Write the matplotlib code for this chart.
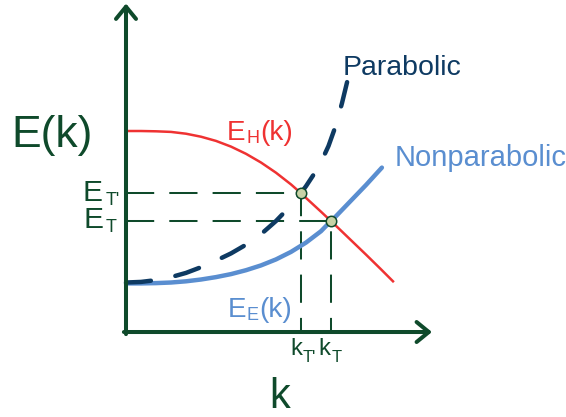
import numpy as np
import matplotlib.pyplot as plt

plt.rcParams['font.family'] = ['Liberation Sans', 'DejaVu Sans']

green = '#0f4a2b'
red = '#ef3232'
blue = '#5a8ed0'
navy = '#0e3a62'
dot = '#c8d2a6'

# hole band E_H(k)
k_hole = [0, .05, .1, .15, .2, .25, .3, .35, .4, .45, .5, .55, .583, .6, .65, .683, .7, .75, .8, .85, .89]
E_hole = [.670, .670, .669, .667, .661, .651, .637, .618, .594, .565, .531, .492, .463, .447, .401, .370, .354, .306, .258, .209, .169]

# nonparabolic electron band E_E(k)
k_np = [0, .05, .1, .15, .2, .25, .3, .35, .4, .45, .5, .55, .6, .65, .683, .7, .75, .8, .853]
E_np = [.162, .162, .163, .165, .169, .175, .183, .193, .206, .222, .242, .267, .298, .336, .370, .386, .438, .490, .548]

# parabolic electron band
k_par = [0, .05, .1, .15, .2, .25, .3, .35, .4, .45, .5, .55, .583, .6, .625, .65, .675, .7, .72, .737]
E_par = [.165, .167, .173, .183, .197, .216, .238, .262, .291, .326, .370, .422, .463, .486, .524, .566, .620, .690, .763, .833]

# crossing points
kT1, ET1 = 0.583, 0.463
kT, ET = 0.683, 0.370

fig = plt.figure(figsize=(5.66, 4.17), dpi=100)
ax = fig.add_axes([0, 0, 1, 1])
ax.set_xlim(-0.42, 1.4667)
ax.set_ylim(-0.2833, 1.1067)
ax.axis('off')

# guide lines
guide = dict(color=green, lw=1.45, solid_capstyle='butt', dash_capstyle='butt', zorder=1)
ax.plot([0, kT1], [ET1, ET1], linestyle=(0, (14, 7.5)), **guide)
ax.plot([0, kT], [ET, ET], linestyle=(0, (14, 7.5)), **guide)
ax.plot([kT1, kT1], [0, ET1], linestyle=(7, (14, 7.5)), **guide)
ax.plot([kT, kT], [0, ET], linestyle=(7, (14, 7.5)), **guide)

# bands
ax.plot(k_np, E_np, color=blue, lw=3.2, solid_capstyle='round', zorder=2)

# stretch the dash pattern so the parabolic curve ends on a dash
lw_par = 3.2
pts = ax.transData.transform(np.column_stack([k_par, E_par])) * 72 / fig.dpi
L = np.hypot(*np.diff(pts, axis=0).T).sum() / lw_par
on, off = 5.3, 5.3
n = round((L - on) / (on + off))
f = L / (n * (on + off) + on)
ax.plot(k_par, E_par, color=navy, lw=lw_par, linestyle=(0, (on * f, off * f)),
        dash_capstyle='round', zorder=3)
ax.plot(k_hole, E_hole, color=red, lw=1.8, zorder=3)

# axes with open arrow heads
arrow = dict(arrowstyle='->,head_length=0.55,head_width=0.45', lw=2.9, color=green,
             shrinkA=0, shrinkB=0, mutation_scale=16)
ax.annotate('', xy=(0, 1.095), xytext=(0, -0.007), arrowprops=arrow, zorder=4)
ax.annotate('', xy=(1.02, 0), xytext=(-0.007, 0), arrowprops=arrow, zorder=4)

# crossing markers
ax.plot([kT1, kT], [ET1, ET], 'o', ms=7.5, mfc=dot, mec=green, mew=1.1, zorder=5)


def px(x, y):
    return x / 566, 1 - y / 417


def label(x, y, s, size, color, **kw):
    fig.text(*px(x, y), s, size=size, color=color, va='baseline', ha='left', **kw)


label(11.5, 147, 'E(k)', 32, green)
fig.text(*px(280, 408), 'k', size=30, color=green, va='baseline', ha='center')

label(83, 201, 'E', 21.5, green)
label(105.5, 205, "T'", 13, green)
label(84, 228, 'E', 21.5, green)
label(106, 232, 'T', 13, green)

label(290, 355, 'k', 17, green)
label(302.5, 362, "T'", 12, green)
label(318, 355, 'k', 17, green)
label(331.5, 362, 'T', 12, green)

label(227, 140, 'E', 20, red)
label(246, 143, 'H', 13, red)
label(260, 140, '(k)', 20, red)

label(228, 317, 'E', 20, blue)
label(246, 320, 'E', 13, blue)
label(259, 317, '(k)', 20, blue)

label(343, 75, 'Parabolic', 20.5, navy)
label(395, 166, 'Nonparabolic', 21, blue)

fig.savefig('out.png', dpi=100)
